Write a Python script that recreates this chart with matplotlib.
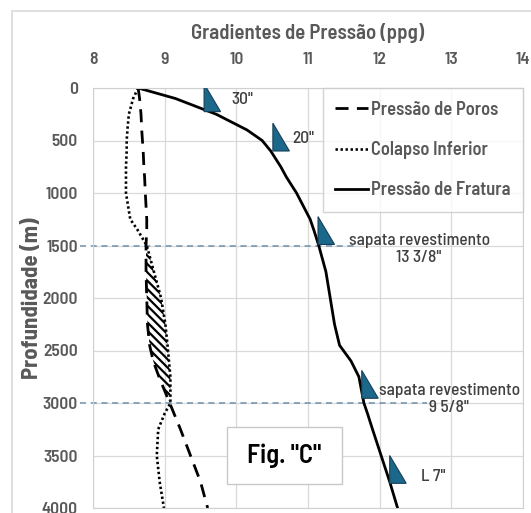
import matplotlib
matplotlib.use("Agg")
import matplotlib.pyplot as plt
from matplotlib.patches import Polygon, Rectangle

# profundidade (m) e gradientes (ppg)
depth = [0, 100, 250, 400, 500, 600, 750, 850, 1000, 1250, 1350, 1500, 1750, 2000, 2250, 2450,
         2600, 2750, 3000, 3100, 3250, 3500, 3750, 4000]
poros = [8.63, 8.65, 8.67, 8.68, 8.69, 8.70, 8.71, 8.72, 8.73, 8.75, 8.75, 8.74, 8.74, 8.75, 8.76, 8.79,
         8.84, 8.92, 9.07, 9.13, 9.22, 9.36, 9.50, 9.60]
colapso = [8.63, 8.56, 8.50, 8.48, 8.47, 8.47, 8.46, 8.46, 8.46, 8.52, 8.62, 8.75, 8.85, 8.95, 9.01, 9.04,
           9.06, 9.08, 9.08, 9.00, 8.91, 8.89, 8.93, 8.99]
fratura = [8.63, 9.15, 9.72, 10.15, 10.36, 10.48, 10.62, 10.70, 10.84, 11.03, 11.08, 11.15, 11.25, 11.31, 11.37, 11.44,
           11.60, 11.71, 11.78, 11.83, 11.90, 12.02, 12.14, 12.25]

# sapatas dos revestimentos (canto inferior esquerdo do triangulo)
shoe_ppg = [9.55, 10.51, 11.14, 11.75, 12.14]
shoe_depth = [225, 600, 1490, 2955, 3765]
shoe_txt = ['30"', '20"', 'sapata revestimento\n13 3/8"', 'sapata revestimento\n9 5/8"', 'L 7"']
txt_ppg = [9.93, 10.78, 12.55, 12.97, 12.58]
txt_depth = [110, 480, 1535, 2960, 3700]
txt_ha = ['left', 'left', 'center', 'center', 'left']

ref_depth = [1500, 3000]
ref_end = [11.67, 12.66]

font = ['Barlow Semi Condensed', 'DejaVu Sans']
gray = '#595959'
plt.rcParams['hatch.linewidth'] = 1.6

fig = plt.figure(figsize=(5.31, 5.13), dpi=100)
fig.patches.append(plt.Rectangle((12/531, -0.02), 1.1, 1 - 11/513 + 0.02, transform=fig.transFigure,
                                 fill=False, edgecolor='#d9d9d9', lw=1.2))
ax = fig.add_axes([93/531, 1 - 508/513, 430/531, 420/513])

ax.set_xlim(8, 14)
ax.set_ylim(4000, 0)
ax.set_xticks(range(8, 15))
ax.set_yticks(range(0, 4001, 500))
ax.xaxis.tick_top()
ax.xaxis.set_label_position('top')
ax.grid(True, color='#d9d9d9', lw=0.9)
ax.set_axisbelow(True)
for s in ax.spines.values():
    s.set_color('#d0d0d0')
ax.tick_params(length=0, labelcolor=gray)
ax.tick_params(axis='x', pad=15)
ax.tick_params(axis='y', pad=11)
for lb in ax.get_xticklabels() + ax.get_yticklabels():
    lb.set_family(font)
    lb.set_fontsize(12.5)
    lb.set_fontweight('semibold')

ax.set_xlabel('Gradientes de Pressão (ppg)', family=font, fontsize=15, fontweight='semibold',
              color=gray, labelpad=9.5)
ax.set_ylabel('Profundidade (m)', family=font, fontsize=16.5, fontweight='bold',
              color=gray, labelpad=0)

# janela com colapso acima da pressao de poros
ax.fill_betweenx(depth, poros, colapso, where=[c > p for c, p in zip(colapso, poros)],
                 interpolate=True, facecolor='none', edgecolor='black', hatch='\\\\\\\\', lw=0)

ax.plot(poros, depth, color='black', lw=2, ls=(0, (4.7, 3.0)), label='Pressão de Poros')
ax.plot(colapso, depth, color='black', lw=1.9, ls=(0, (0.9, 1.0)), label='Colapso Inferior')
ax.plot(fratura, depth, color='black', lw=2, label='Pressão de Fratura')

for d, xe in zip(ref_depth, ref_end):
    ax.plot([7.82, xe], [d, d], color='#6f8fa8', lw=1.1, ls=(0, (4, 3)), clip_on=False, zorder=1)

w, h = 0.23, 265
for x, d in zip(shoe_ppg, shoe_depth):
    ax.add_patch(Polygon([(x, d), (x, d - h), (x + w, d)], closed=True,
                         facecolor='#1b688b', edgecolor='#163f57', lw=0.8, zorder=4))

for t, x, d, ha in zip(shoe_txt, txt_ppg, txt_depth, txt_ha):
    ax.text(x, d, t, family=font, fontsize=12.5, fontweight='medium', color='#404040',
            ha=ha, va='center', linespacing=1.2, zorder=5)

leg = ax.legend(loc='upper right', bbox_to_anchor=(1, 1), borderaxespad=0, frameon=True,
                fancybox=False, edgecolor='#c8c8c8', handlelength=1.75, handletextpad=0.15,
                labelspacing=1.2, borderpad=0.7, prop={'family': font, 'size': 13.3,
                                                          'weight': 'semibold'})
leg.get_frame().set_linewidth(1.0)
for t in leg.get_texts():
    t.set_color(gray)

ax.add_patch(Rectangle((0.3116, 0.0571), 0.2674, 0.1357, transform=ax.transAxes,
                       facecolor='white', edgecolor='#c8c8c8', lw=1, zorder=6))
ax.text(0.445, 0.125, 'Fig. "C"', transform=ax.transAxes, family=font, fontsize=19,
        fontweight='semibold', color='black', ha='center', va='center', zorder=7)

fig.savefig('out.png', dpi=100)
